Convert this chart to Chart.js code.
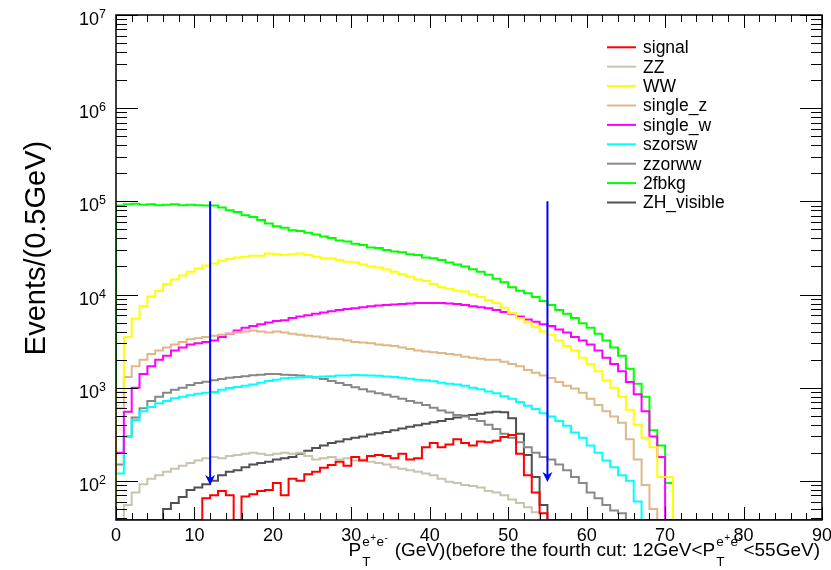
<!DOCTYPE html>
<html><head><meta charset="utf-8">
<script src="https://cdn.jsdelivr.net/npm/chart.js@4.4.1/dist/chart.umd.min.js"></script>
<style>html,body{margin:0;padding:0;background:#fff;}</style>
</head><body>
<canvas id="c" width="831" height="570"></canvas>
<script>
// ---- data (1 GeV bins, left edges) ----
const binEdges = [0,1,2,3,4,5,6,7,8,9,10,11,12,13,14,15,16,17,18,19,20,21,22,23,24,25,26,27,28,29,30,31,32,33,34,35,36,37,38,39,40,41,42,43,44,45,46,47,48,49,50,51,52,53,54,55,56,57,58,59,60,61,62,63,64,65,66,67,68,69,70,71,72,73,74,75,76,77,78,79,80,81,82,83,84,85,86,87,88,89];
const xMaxEdge = 90;

const signal = [0,0,0,0,0,0,0,0,0,0,0,65,70,78,70,0,68,72,78,80,95,70,105,100,118,125,138,148,160,145,180,165,185,190,185,175,195,170,175,230,255,230,245,280,255,240,265,260,270,295,310,195,115,75,45,0,0,0,0,0,0,0,0,0,0,0,0,0,0,0,0,0,0,0,0,0,0,0,0,0,0,0,0,0,0,0,0,0,0,0];
const zz = [0,55,75,92,105,115,125,135,145,155,165,175,180,175,185,190,195,200,195,190,195,200,195,200,185,170,175,180,170,175,165,170,160,155,150,140,135,130,125,120,115,105,98,95,90,88,85,78,75,70,63,58,52,46,0,0,0,0,0,0,0,0,0,0,0,0,0,0,0,0,0,0,0,0,0,0,0,0,0,0,0,0,0,0,0,0,0,0,0,0];
const ww = [900,3500,5500,7500,9500,11000,13000,14500,16000,17500,19000,20500,21500,23000,24000,25000,25500,26000,26000,27500,27000,26500,27000,27500,26500,25500,24500,24500,23500,22500,22000,21000,20000,19500,18500,17500,16500,15500,14500,14000,13000,12000,11500,11000,10800,10000,9400,8700,8100,7200,6300,5600,5000,4500,4000,3700,3200,2800,2500,2100,1800,1500,1200,1000,800,580,400,290,230,110,110,0,0,0,0,0,0,0,0,0,0,0,0,0,0,0,0,0,0,0];
const singleZ = [600,1300,1700,2000,2300,2500,2700,2900,3100,3300,3400,3500,3600,3700,3800,3900,4000,4100,4000,3900,4000,3900,3800,3700,3600,3550,3450,3350,3300,3200,3100,3050,3000,2900,2850,2800,2700,2600,2500,2450,2400,2350,2300,2250,2150,2100,2050,2000,2000,1900,1800,1700,1550,1450,1350,1270,1150,1050,980,880,760,650,560,490,420,280,170,90,50,0,0,0,0,0,0,0,0,0,0,0,0,0,0,0,0,0,0,0,0,0];
const singleW = [200,550,1000,1400,1700,2000,2200,2500,2700,2900,3000,3100,3200,3500,3800,4100,4400,4600,4800,5000,5200,5300,5600,5800,6000,6200,6400,6600,6800,7000,7100,7300,7500,7600,7700,7800,7900,8000,8100,8100,8100,8100,8000,7900,7700,7500,7300,7100,6800,6500,6200,5800,5400,5100,4800,4600,4200,3900,3500,3200,2900,2500,2100,1800,1500,1150,850,560,300,180,0,0,0,0,0,0,0,0,0,0,0,0,0,0,0,0,0,0,0,0];
const szorsw = [120,300,450,560,620,680,720,770,800,830,860,880,900,950,990,1020,1050,1080,1130,1180,1220,1260,1280,1290,1300,1300,1320,1330,1350,1350,1370,1360,1350,1340,1320,1300,1280,1250,1220,1200,1170,1130,1100,1080,1050,1000,960,910,870,810,760,700,640,590,530,490,440,390,330,290,240,200,165,140,115,100,60,0,0,0,0,0,0,0,0,0,0,0,0,0,0,0,0,0,0,0,0,0,0,0];
const zzorww = [150,300,480,600,720,800,880,950,1000,1070,1120,1160,1200,1240,1280,1300,1330,1360,1380,1400,1400,1380,1370,1350,1320,1290,1240,1180,1120,1070,1010,960,910,870,840,800,760,720,690,650,610,570,540,510,490,460,440,400,360,320,290,260,230,200,180,170,150,130,110,95,75,65,55,48,45,0,0,0,0,0,0,0,0,0,0,0,0,0,0,0,0,0,0,0,0,0,0,0,0,0];
const bkg2f = [90000,93000,94000,92000,93000,91000,92000,93000,91000,92000,91000,90000,90000,86000,80000,77000,71000,68000,63000,58000,54000,52000,49000,48000,46000,44000,42000,40500,38000,37000,35000,34000,32000,31500,30000,29000,28500,27000,26500,25000,24500,23500,22000,21000,20000,18700,17500,16300,14800,13500,12000,11000,10300,9400,8500,7700,6800,6200,5600,4900,4400,3800,3200,2700,2200,1600,1100,800,350,240,95,0,0,0,0,0,0,0,0,0,0,0,0,0,0,0,0,0,0,0];
const zhVisible = [0,0,0,0,0,0,50,58,67,80,85,92,100,115,125,130,140,150,155,160,170,175,180,195,210,225,240,255,265,280,290,300,315,325,335,350,365,380,395,410,425,440,460,480,500,510,525,540,550,545,470,320,190,110,55,0,0,0,0,0,0,0,0,0,0,0,0,0,0,0,0,0,0,0,0,0,0,0,0,0,0,0,0,0,0,0,0,0,0,0];

const seriesNames = ['signal','ZZ','WW','single_z','single_w','szorsw','zzorww','2fbkg','ZH_visible'];
const seriesColors = ['#ff0000','#c8c4b0','#ffff00','#deb887','#ff00ff','#00ffff','#888888','#00ff00','#505050'];
const seriesValues = [signal, zz, ww, singleZ, singleW, szorsw, zzorww, bkg2f, zhVisible];

const xTickLabels = [0,10,20,30,40,50,60,70,80,90];
const yDecadeExp = [2,3,4,5,6,7];
const yMin = 38, yMax = 1e7;
const cutValues = [12, 55];
const arrowTop = 1e5;
const arrowTips = [90, 97];

const FONT = '"Liberation Sans", Arial, Helvetica, sans-serif';
const TITLE_FONT = '19px ' + FONT;

function histPoints(vals){
  const pts = [{x: binEdges[0], y: yMin}];
  vals.forEach((v,i)=>pts.push({x: binEdges[i], y: v > 0 ? v : yMin}));
  const last = vals[vals.length-1];
  pts.push({x: xMaxEdge, y: last > 0 ? last : yMin});
  return pts;
}

function drawPT(ctx, x, base, draw){
  ctx.font = TITLE_FONT;
  const wP = ctx.measureText('P').width;
  if (draw) ctx.fillText('P', x, base);
  const xs = x + wP + 1;
  ctx.font = '13.5px ' + FONT;
  const wT = ctx.measureText('T').width;
  if (draw) ctx.fillText('T', xs, base + 10);
  let sx = xs;
  const sup = [['e','13.5px',-10],['+','10px',-15],['e','13.5px',-10],['-','10px',-15]];
  sup.forEach(s=>{
    ctx.font = s[1] + ' ' + FONT;
    if (draw) ctx.fillText(s[0], sx, base + s[2]);
    sx += ctx.measureText(s[0]).width + 0.5;
  });
  return Math.max(xs + wT, sx) - x + 1;
}

const decor = {
  id: 'decor',
  afterDatasetsDraw(chart){
    const {ctx, scales:{x, y}} = chart;
    ctx.save();
    ctx.strokeStyle = '#0000ff'; ctx.fillStyle = '#0000ff'; ctx.lineWidth = 2;
    cutValues.forEach((c,i)=>{
      const px = x.getPixelForValue(c);
      const y0 = y.getPixelForValue(arrowTop);
      const y1 = y.getPixelForValue(arrowTips[i]);
      ctx.beginPath(); ctx.moveTo(px, y0); ctx.lineTo(px, y1 - 6); ctx.stroke();
      ctx.beginPath(); ctx.moveTo(px - 5, y1 - 10); ctx.lineTo(px, y1 - 7); ctx.lineTo(px + 5, y1 - 10); ctx.lineTo(px, y1); ctx.closePath(); ctx.fill();
    });
    ctx.restore();
  },
  afterDraw(chart){
    const {ctx, chartArea:a, scales:{x, y}} = chart;
    ctx.save();
    ctx.strokeStyle = '#000'; ctx.fillStyle = '#000';
    // ticks
    ctx.lineWidth = 1;
    ctx.beginPath();
    for (let v = 0; v <= 90; v += 2){
      const px = Math.round(x.getPixelForValue(v)) + 0.5;
      const major = v % 10 === 0;
      const lb = major ? 13 : 7;
      ctx.moveTo(px, a.bottom); ctx.lineTo(px, a.bottom - lb);
      ctx.moveTo(px, a.top); ctx.lineTo(px, a.top + lb);
    }
    for (let e = 1; e <= 7; e++){
      for (let k = 1; k <= 9; k++){
        const v = k * Math.pow(10, e);
        if (v < yMin || v > yMax) continue;
        const py = Math.round(y.getPixelForValue(v)) + 0.5;
        const l = k === 1 ? 22 : 11;
        ctx.moveTo(a.left, py); ctx.lineTo(a.left + l, py);
        ctx.moveTo(a.right, py); ctx.lineTo(a.right - l, py);
      }
    }
    ctx.stroke();
    // frame
    ctx.lineWidth = 1.5;
    ctx.strokeRect(a.left, a.top, a.right - a.left, a.bottom - a.top);
    // x tick labels
    ctx.font = '18px ' + FONT;
    ctx.textAlign = 'center'; ctx.textBaseline = 'alphabetic';
    xTickLabels.forEach(v=>{
      ctx.fillText(String(v), x.getPixelForValue(v), a.bottom + 21);
    });
    // y tick labels
    yDecadeExp.forEach(e=>{
      const py = y.getPixelForValue(Math.pow(10, e));
      ctx.font = '12.5px ' + FONT;
      ctx.textAlign = 'left';
      const sw = ctx.measureText(String(e)).width;
      const right = a.left - 10;
      ctx.fillText(String(e), right - sw, py + 3);
      ctx.font = '18px ' + FONT;
      ctx.textAlign = 'right';
      ctx.fillText('10', right - sw, py + 10);
    });
    // y title
    ctx.save();
    ctx.translate(45, 248);
    ctx.rotate(-Math.PI/2);
    ctx.font = '29px ' + FONT;
    ctx.textAlign = 'center'; ctx.textBaseline = 'alphabetic';
    ctx.fillText('Events/(0.5GeV)', 0, 0);
    ctx.restore();
    // x title
    ctx.textAlign = 'left'; ctx.textBaseline = 'alphabetic';
    const base = a.bottom + 36;
    const mid = ' (GeV)(before the fourth cut: 12GeV<';
    const end = '<55GeV)';
    let total = drawPT(ctx, 0, base, false);
    ctx.font = TITLE_FONT; total += ctx.measureText(mid).width;
    total += drawPT(ctx, 0, base, false);
    ctx.font = TITLE_FONT; total += ctx.measureText(end).width;
    let cx = a.right - 2 - total;
    cx += drawPT(ctx, cx, base, true);
    ctx.font = TITLE_FONT; ctx.fillText(mid, cx, base); cx += ctx.measureText(mid).width;
    cx += drawPT(ctx, cx, base, true);
    ctx.font = TITLE_FONT; ctx.fillText(end, cx, base);
    // legend
    ctx.font = '17.5px ' + FONT;
    ctx.textBaseline = 'middle'; ctx.textAlign = 'left';
    seriesNames.forEach((n,i)=>{
      const ly = 47.3 + i * 19.4;
      ctx.strokeStyle = seriesColors[i]; ctx.lineWidth = 2;
      ctx.beginPath(); ctx.moveTo(607, ly); ctx.lineTo(636, ly); ctx.stroke();
      ctx.fillStyle = '#000';
      ctx.fillText(n, 643, ly + 1);
    });
    ctx.restore();
  }
};

new Chart(document.getElementById('c'), {
  type: 'line',
  data: {
    datasets: seriesValues.map((vals,i)=>({
      label: seriesNames[i],
      data: histPoints(vals),
      borderColor: seriesColors[i],
      borderWidth: 2,
      pointRadius: 0,
      pointHoverRadius: 0,
      stepped: 'before',
      fill: false,
      tension: 0
    }))
  },
  options: {
    responsive: false,
    animation: false,
    devicePixelRatio: 1,
    layout: {padding: {left: 116, right: 9, top: 15, bottom: 50}},
    plugins: {legend: {display: false}, tooltip: {enabled: false}},
    events: [],
    scales: {
      x: {type: 'linear', min: 0, max: 90, display: false},
      y: {type: 'logarithmic', min: yMin, max: yMax, display: false}
    }
  },
  plugins: [decor]
});
</script>
</body></html>
